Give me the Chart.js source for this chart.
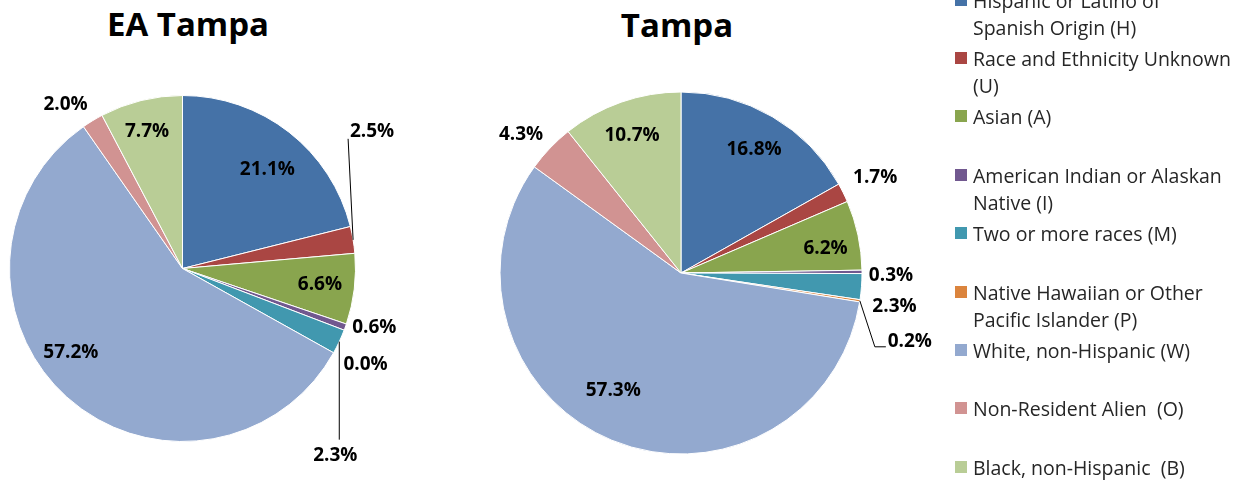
<!DOCTYPE html>
<html lang="en">
<head>
  <meta charset="UTF-8" />
  <title>EA Tampa vs Tampa</title>
  <script src="https://cdn.jsdelivr.net/npm/chart.js"></script>
  <style>
    body { margin: 0; width: 1249px; height: 481px; overflow: hidden; background: #fff; position: relative; font-family: 'Open Sans', sans-serif; }
    canvas { position: absolute; top: 0; }
    #pie-ea { left: 0; }
    #pie-tampa { left: 420px; }
    .title { position: absolute; height: 40px; line-height: 40px; font-weight: bold; font-size: 33px; color: #000; transform: translateX(-50%); white-space: nowrap; }
    #legend { position: absolute; left: 955px; top: 0; width: 294px; height: 481px; }
    .item { position: absolute; left: 0; width: 290px; }
    .item .box { position: absolute; left: 0; top: 7px; width: 12px; height: 12px; }
    .item .txt { position: absolute; left: 18px; top: 0; font-size: 19.5px; line-height: 27px; color: #262626; white-space: pre; }
  </style>
</head>
<body>
  <div class="title" id="title-ea" style="left:188px; top:4px;"></div>
  <div class="title" id="title-tampa" style="left:677px; top:5px;"></div>
  <canvas id="pie-ea" width="400" height="481"></canvas>
  <canvas id="pie-tampa" width="540" height="481"></canvas>
  <div id="legend"></div>

  <script>
    // categories (multi-line legend labels)
    const categories = [
      ['Hispanic or Latino of', 'Spanish Origin (H)'],
      ['Race and Ethnicity Unknown', '(U)'],
      ['Asian (A)'],
      ['American Indian or Alaskan', 'Native (I)'],
      ['Two or more races (M)'],
      ['Native Hawaiian or Other', 'Pacific Islander (P)'],
      ['White, non-Hispanic (W)'],
      ['Non-Resident Alien  (O)'],
      ['Black, non-Hispanic  (B)']
    ];
    const eaTampa = [21.1, 2.5, 6.6, 0.6, 2.3, 0.0, 57.2, 2.0, 7.7];
    const tampa   = [16.8, 1.7, 6.2, 0.3, 2.3, 0.2, 57.3, 4.3, 10.7];
    const chartTitles = ['EA Tampa', 'Tampa'];

    const colors = ['#4572A7', '#AA4643', '#89A54E', '#71588F', '#4198AF', '#DB843D', '#93A9CF', '#D19392', '#B9CD96'];

    // label placement: radial factor of the radius, pixel nudge, optional leader line
    const placeEa = [
      { f: 0.76, dx: 4, dy: 5 },
      { f: 1, dx: 19, dy: -108, leader: [[-5, -101]] },
      { f: 0.8, dx: 0, dy: 0 },
      { f: 1, dx: 29, dy: 0 },
      { f: 1, dx: -4, dy: 114, leader: [[0, 98]] },
      { f: 1, dx: 32, dy: 12 },
      { f: 0.79, dx: -20, dy: -17 },
      { f: 1, dx: -27, dy: -16 },
      { f: 0.83, dx: -1, dy: 3 }
    ];
    const placeTampa = [
      { f: 0.8, dx: 0, dy: 2 },
      { f: 1, dx: 32, dy: -15 },
      { f: 0.8, dx: 3, dy: 6 },
      { f: 1, dx: 29, dy: 4 },
      { f: 1, dx: 33, dy: 20 },
      { f: 1, dx: 50, dy: 41, leader: [[15, 46], [26, 46]] },
      { f: 0.76, dx: -15, dy: -9 },
      { f: 1, dx: -29, dy: -13 },
      { f: 0.835, dx: 1, dy: 5 }
    ];

    const pieLabels = {
      id: 'pieLabels',
      afterDatasetsDraw(chart, args, opts) {
        const ctx = chart.ctx;
        const meta = chart.getDatasetMeta(0);
        const values = chart.data.datasets[0].data;
        ctx.save();
        ctx.font = 'bold 19px "Open Sans", sans-serif';
        ctx.fillStyle = '#000';
        ctx.strokeStyle = '#000';
        ctx.lineWidth = 1;
        ctx.textAlign = 'center';
        ctx.textBaseline = 'middle';
        meta.data.forEach((arc, i) => {
          const p = arc.getProps(['x', 'y', 'startAngle', 'endAngle', 'outerRadius'], true);
          const mid = (p.startAngle + p.endAngle) / 2;
          const pl = opts.place[i];
          const ax = p.x + Math.cos(mid) * p.outerRadius;
          const ay = p.y + Math.sin(mid) * p.outerRadius;
          if (pl.leader) {
            ctx.beginPath();
            ctx.moveTo(ax, ay);
            pl.leader.forEach(([x, y]) => ctx.lineTo(ax + x, ay + y));
            ctx.stroke();
          }
          const lx = p.x + Math.cos(mid) * p.outerRadius * pl.f + pl.dx;
          const ly = p.y + Math.sin(mid) * p.outerRadius * pl.f + pl.dy;
          ctx.fillText(values[i].toFixed(1) + '%', lx, ly);
        });
        ctx.restore();
      }
    };

    function makePie(id, values, radius, padding, place) {
      return new Chart(document.getElementById(id), {
        type: 'pie',
        data: {
          labels: categories,
          datasets: [{
            data: values,
            backgroundColor: colors,
            borderColor: '#fff',
            borderWidth: 1,
            hoverOffset: 0
          }]
        },
        options: {
          responsive: false,
          animation: false,
          events: [],
          radius: radius,
          layout: { padding: padding },
          plugins: {
            legend: { display: false },
            tooltip: { enabled: false },
            pieLabels: { place: place }
          }
        },
        plugins: [pieLabels]
      });
    }

    document.getElementById('title-ea').textContent = chartTitles[0];
    document.getElementById('title-tampa').textContent = chartTitles[1];

    makePie('pie-ea', eaTampa, 173, { left: 0, right: 35, top: 56, bottom: 0 }, placeEa);
    makePie('pie-tampa', tampa, 181, { left: 0, right: 18, top: 65, bottom: 0 }, placeTampa);

    // legend
    const legend = document.getElementById('legend');
    categories.forEach((lines, i) => {
      const item = document.createElement('div');
      item.className = 'item';
      item.style.top = (i * 58.4 - 13.5) + 'px';
      const box = document.createElement('div');
      box.className = 'box';
      box.style.background = colors[i];
      const txt = document.createElement('div');
      txt.className = 'txt';
      txt.textContent = lines.join('\n');
      item.appendChild(box);
      item.appendChild(txt);
      legend.appendChild(item);
    });
  </script>
</body>
</html>
